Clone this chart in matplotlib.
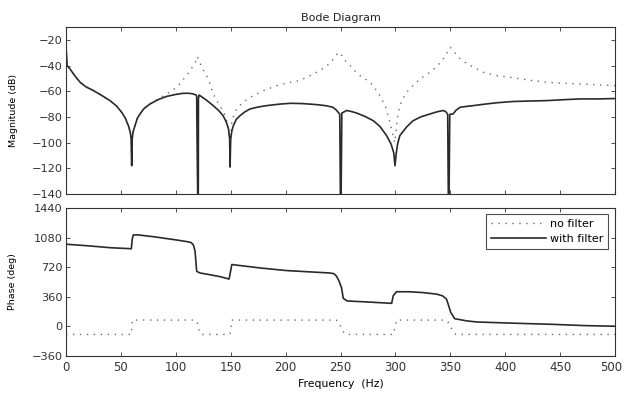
import numpy as np
import matplotlib
matplotlib.use('Agg')
import matplotlib.pyplot as plt
import matplotlib.transforms as mtransforms

plt.rcParams['font.family'] = ['DejaVu Sans']

# -----------------------------
# Data
# -----------------------------
# magnitude, with filter
f_mag = [0, 1, 3.6, 8, 12.8, 18, 25, 32, 40, 46, 50.7, 54, 56.8, 58.5, 59.3, 59.8,
         60.3, 61, 62.8, 65, 67.4, 71, 76.5, 84, 91.7, 100, 106.8, 112, 116, 118.5,
         119.0, 119.4, 120.4, 120.6, 121, 122, 128, 134, 139, 143, 146, 148, 149,
         149.4, 150, 151, 152.4, 155, 158.5, 163, 167.6, 175, 182.7, 195, 204.6,
         215, 228, 237, 243, 246, 248, 249.3, 250.2, 251.2, 252.5, 255.6, 260,
         264.7, 272, 280, 286, 292, 296, 298.5, 299.6, 300.8, 302, 304, 310, 316,
         323, 331.5, 338, 343.6, 346, 347.6, 348.5, 349.5, 352.5, 355, 358.8, 365,
         371, 380, 392, 407, 423, 438, 453, 468, 484, 500]
mag_filt = [-25, -40, -42.6, -48, -53, -56.5, -59.5, -63, -67.3, -71.5, -76.4, -81,
            -86.8, -92, -97, -118, -97, -92, -86.8, -81, -77.7, -73.5, -69.9, -66.5,
            -64, -62.5, -61.6, -61.6, -62.1, -63, -64, -102, -175, -66, -63, -63.4,
            -67, -71.2, -75, -79, -84, -89.4, -97, -119, -97, -91, -86.8, -82, -79,
            -76, -73.8, -72.3, -71.2, -70, -69.4, -69.6, -70.4, -71.3, -72.5, -74.5,
            -76.5, -78, -175, -77, -76.4, -75, -75.8, -77, -79.5, -83, -87.5, -94.6,
            -101, -108, -118, -108, -101, -94.6, -88, -83, -80, -77.7, -76, -75, -76,
            -78, -175, -78, -77.7, -75, -72.5, -71.8, -71.2, -70.2, -69, -68, -67.6,
            -67.3, -66.6, -66, -66, -65.7]

# magnitude, no filter
f_mag_nf = [0, 1, 3.6, 8, 12.8, 18, 25, 32, 40, 46, 50.7, 54, 56.8, 58.5, 59.3, 59.8,
            60.3, 61, 62.8, 65, 67.4, 71, 76.5, 84, 91.7, 97, 104, 108, 111.4, 116,
            118.5, 119.6, 121, 124, 128, 131, 134, 137, 140, 144, 147, 149.3, 151,
            153, 155.5, 160, 167.6, 180, 192, 203, 213, 222, 231, 238, 243.5, 246.5,
            248.5, 251, 255, 258.7, 261, 268, 277, 285, 291, 295, 299.4, 302, 304,
            309, 316, 323, 331.5, 338, 343.6, 347, 350, 353, 359, 365, 371, 380, 392,
            407, 423, 438, 453, 468, 484, 500]
mag_nf = [-25, -40, -42.6, -48, -53, -56.5, -59.5, -63, -67.3, -71.5, -76.4, -81,
          -86.8, -92, -97, -118, -97, -92, -86.8, -81, -77.7, -73.5, -69.9, -66, -62,
          -59.5, -54, -49.5, -46, -40, -36, -33, -36, -42, -47.8, -54, -62, -67, -71,
          -77, -85, -100, -84, -78, -73.8, -69.5, -64.7, -59.5, -55.6, -53.2, -51.7,
          -48, -44, -40, -35, -31.5, -29.7, -32, -37, -40, -42.6, -48, -53, -62, -72,
          -84, -100, -80, -71.2, -62, -55.6, -50, -45.2, -40.5, -34.8, -30, -25.8,
          -29, -34.8, -38.5, -41.3, -45.2, -47.8, -49.5, -51.5, -53, -53.8, -54.3,
          -55, -55.6]

# phase, with filter
f_ph = [0, 20, 40, 59.5, 60.3, 61.3, 66, 80, 100, 110, 114, 116, 117.5, 119, 122,
        130, 140, 148.5, 149.6, 151, 155, 176.7, 201, 225, 240, 244, 246.5, 249,
        251, 252.5, 256, 275, 296.6, 298, 301, 313, 325, 337.6, 343, 346.5, 348.5,
        350.3, 354, 365, 374, 398, 420, 441, 474, 500]
ph_filt = [999, 980, 957, 944, 1060, 1113, 1112, 1090, 1052, 1031, 1019, 990, 916,
           669, 649, 630, 605, 575, 650, 752, 745, 710, 678, 660, 649, 640, 608, 540,
           464, 340, 308, 295, 279, 372, 420, 420, 410, 391, 370, 331, 250, 172, 92,
           65, 52, 41, 32, 24, 7, 0]

# phase, no filter
f_ph_nf = [0, 59.5, 60.5, 118, 119, 120, 121, 123, 148, 149.5, 151, 246, 248, 250,
           252, 255, 298, 301, 346, 348, 350, 352, 355, 500]
ph_nf = [-100, -100, 75, 75, 60, 20, -40, -100, -100, -90, 75, 75, 60, 0, -60, -100,
         -100, 75, 75, 50, 0, -50, -100, -100]

freq_ticks = [0, 50, 100, 150, 200, 250, 300, 350, 400, 450, 500]
mag_ticks = [-140, -120, -100, -80, -60, -40, -20]
ph_ticks = [-360, 0, 360, 720, 1080, 1440]

# -----------------------------
# Figure
# -----------------------------
fig = plt.figure(figsize=(6.24, 3.94), dpi=100)
ax1 = fig.add_axes([0.1058, 0.5076, 0.8798, 0.4239])
ax2 = fig.add_axes([0.1058, 0.0970, 0.8798, 0.3750])

dot_style = dict(color='#6a6a6a', linestyle=(0, (1, 4)), linewidth=1.0)
solid_style = dict(color='#2a2a2a', linestyle='-', linewidth=1.2)

ax1.plot(f_mag_nf, mag_nf, **dot_style)
ax1.plot(f_mag, mag_filt, **solid_style)
ax1.set_xlim(0, 500)
ax1.set_ylim(-140, -10)
ax1.set_xticks(freq_ticks)
ax1.set_xticklabels([])
ax1.set_yticks(mag_ticks)
ax1.set_ylabel('Magnitude (dB)', fontsize=6.8)
ax1.yaxis.set_label_coords(-0.088, 0.5)
ax1.set_title('Bode Diagram', fontsize=8, pad=4, color='#222222')

ax2.plot(f_ph_nf, ph_nf, label='no filter', **dot_style)
ax2.plot(f_ph, ph_filt, label='with filter', **solid_style)
ax2.set_xlim(0, 500)
ax2.set_ylim(-360, 1440)
ax2.set_xticks(freq_ticks)
ax2.set_yticks(ph_ticks)
ax2.set_ylabel('Phase (deg)', fontsize=6.8)
ax2.yaxis.set_label_coords(-0.09, 0.5)
ax2.set_xlabel('Frequency  (Hz)', fontsize=7.8, labelpad=3)

for ax in (ax1, ax2):
    ax.tick_params(direction='in', length=3, width=0.6, top=True, right=True,
                   labelsize=8.2, colors='#333333', pad=2.5)
    ax.tick_params(axis='x', labelsize=8.5, pad=4)
    for s in ax.spines.values():
        s.set_color('#333333')
        s.set_linewidth(0.8)

# keep the last frequency label inside the figure edge
last = ax2.get_xticklabels()[-1]
last.set_transform(last.get_transform() +
                   mtransforms.ScaledTranslation(-4 / 100, 0, fig.dpi_scale_trans))

leg = ax2.legend(loc='upper right', bbox_to_anchor=(0.987, 0.959), borderaxespad=0,
                 fontsize=8, frameon=True, fancybox=False, edgecolor='#222222',
                 handlelength=5.0, handletextpad=0.3, borderpad=0.45,
                 labelspacing=0.45)
leg.get_frame().set_linewidth(0.8)

plt.savefig('out.png', dpi=100)
plt.close()
